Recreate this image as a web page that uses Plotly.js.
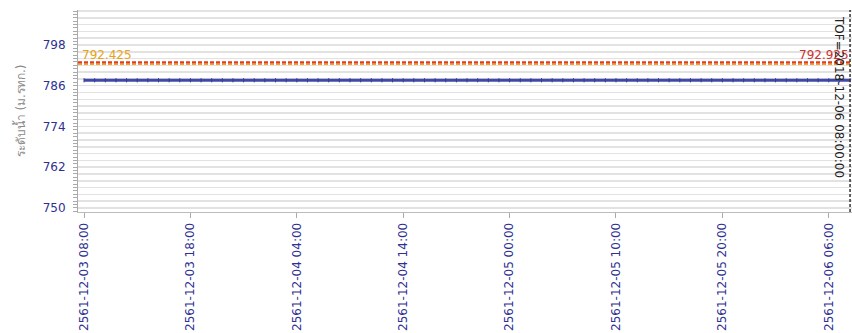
<!DOCTYPE html>
<html>
<head>
<meta charset="utf-8">
<script src="https://cdn.plot.ly/plotly-3.0.1.min.js"></script>
<style>html,body{margin:0;padding:0;background:#fff;}#chart{width:852px;height:333px;}</style>
</head>
<body>
<div id="chart"></div>
<script>
// Water level series (hourly), 2018-12-03 08:00 .. 2018-12-06 08:00
const levelTimes = [
"2018-12-03 08:00","2018-12-03 09:00","2018-12-03 10:00","2018-12-03 11:00","2018-12-03 12:00","2018-12-03 13:00",
"2018-12-03 14:00","2018-12-03 15:00","2018-12-03 16:00","2018-12-03 17:00","2018-12-03 18:00","2018-12-03 19:00",
"2018-12-03 20:00","2018-12-03 21:00","2018-12-03 22:00","2018-12-03 23:00","2018-12-04 00:00","2018-12-04 01:00",
"2018-12-04 02:00","2018-12-04 03:00","2018-12-04 04:00","2018-12-04 05:00","2018-12-04 06:00","2018-12-04 07:00",
"2018-12-04 08:00","2018-12-04 09:00","2018-12-04 10:00","2018-12-04 11:00","2018-12-04 12:00","2018-12-04 13:00",
"2018-12-04 14:00","2018-12-04 15:00","2018-12-04 16:00","2018-12-04 17:00","2018-12-04 18:00","2018-12-04 19:00",
"2018-12-04 20:00","2018-12-04 21:00","2018-12-04 22:00","2018-12-04 23:00","2018-12-05 00:00","2018-12-05 01:00",
"2018-12-05 02:00","2018-12-05 03:00","2018-12-05 04:00","2018-12-05 05:00","2018-12-05 06:00","2018-12-05 07:00",
"2018-12-05 08:00","2018-12-05 09:00","2018-12-05 10:00","2018-12-05 11:00","2018-12-05 12:00","2018-12-05 13:00",
"2018-12-05 14:00","2018-12-05 15:00","2018-12-05 16:00","2018-12-05 17:00","2018-12-05 18:00","2018-12-05 19:00",
"2018-12-05 20:00","2018-12-05 21:00","2018-12-05 22:00","2018-12-05 23:00","2018-12-06 00:00","2018-12-06 01:00",
"2018-12-06 02:00","2018-12-06 03:00","2018-12-06 04:00","2018-12-06 05:00","2018-12-06 06:00","2018-12-06 07:00",
"2018-12-06 08:00"
];
const levelValues = [
787.6,787.6,787.6,787.6,787.6,787.6,787.6,787.6,787.6,787.6,787.6,787.6,
787.6,787.6,787.6,787.6,787.6,787.6,787.6,787.6,787.6,787.6,787.6,787.6,
787.6,787.6,787.6,787.6,787.6,787.6,787.6,787.6,787.6,787.6,787.6,787.6,
787.6,787.6,787.6,787.6,787.6,787.6,787.6,787.6,787.6,787.6,787.6,787.6,
787.6,787.6,787.6,787.6,787.6,787.6,787.6,787.6,787.6,787.6,787.6,787.6,
787.6,787.6,787.6,787.6,787.6,787.6,787.6,787.6,787.6,787.6,787.6,787.6,
787.6
];
// Reference levels
const warnLevel = 792.425;
const critLevel = 792.925;
const refStart = "2018-12-03 07:26";
const refEnd = "2018-12-06 08:11";
const tofTime = "2018-12-06 08:00";
const tofLabel = "TOF=2018-12-06 08:00:00";
// Axis ticks
const xTickVals = ["2018-12-03 08:00","2018-12-03 18:00","2018-12-04 04:00","2018-12-04 14:00",
                   "2018-12-05 00:00","2018-12-05 10:00","2018-12-05 20:00","2018-12-06 06:00"];
const xTickText = ["2561-12-03 08:00","2561-12-03 18:00","2561-12-04 04:00","2561-12-04 14:00",
                   "2561-12-05 00:00","2561-12-05 10:00","2561-12-05 20:00","2561-12-06 06:00"];
const yTickVals = [750, 762, 774, 786, 798];
const yTitle = "ระดับน้ำ (ม.รทก.)";

const tickColor = "#2e3192";
const FONT = "DejaVu Sans";

const traces = [
  {x: [refStart, refEnd], y: [warnLevel, warnLevel], mode: "lines",
   line: {color: "#f0a030", width: 2, dash: "4px,2px"}, hoverinfo: "skip"},
  {x: [refStart, refEnd], y: [critLevel, critLevel], mode: "lines",
   line: {color: "#e53a2a", width: 2, dash: "4px,2px"}, hoverinfo: "skip"},
  {x: levelTimes, y: levelValues, mode: "lines+markers",
   line: {color: "#4048a8", width: 3},
   marker: {symbol: "line-ns-open", size: 3, color: "#343c98", line: {width: 1, color: "#343c98"}}},
  {x: levelTimes, y: levelValues, yaxis: "y2", mode: "none", hoverinfo: "skip"}
];

const layout = {
  width: 852, height: 333,
  margin: {l: 78, r: 0, t: 10, b: 121},
  paper_bgcolor: "#ffffff", plot_bgcolor: "#ffffff",
  showlegend: false,
  font: {family: FONT, size: 12, color: tickColor},
  xaxis: {
    type: "date", range: [refStart, refEnd],
    tickvals: xTickVals, ticktext: xTickText, tickangle: -90,
    ticks: "outside", ticklen: 5, tickcolor: "#aaaaaa",
    showgrid: false, zeroline: false,
    showline: true, linecolor: "#bbbbbb", linewidth: 1,
    tickfont: {family: FONT, size: 12, color: tickColor},
    automargin: false
  },
  yaxis: {
    range: [748.8, 808.3],
    tickvals: yTickVals,
    ticks: "outside", ticklen: 9, tickcolor: "rgba(0,0,0,0)",
    showgrid: true, gridcolor: "#e2e2e2", gridwidth: 1.5,
    minor: {dtick: 2, tick0: 750, showgrid: true, gridcolor: "#e2e2e2", gridwidth: 1.5, ticks: ""},
    zeroline: false,
    showline: true, linecolor: "#aaaaaa", linewidth: 1,
    tickfont: {family: FONT, size: 12, color: tickColor},
    title: {text: yTitle, font: {family: FONT, size: 12, color: "#8a8a8a"}, standoff: 14},
    automargin: false
  },
  yaxis2: {
    overlaying: "y", side: "left", range: [748.8, 808.3],
    dtick: 1, tick0: 750, ticks: "outside", ticklen: 4, tickcolor: "#aaaaaa",
    showticklabels: false, showgrid: false, zeroline: false, showline: false
  },
  shapes: [
    {type: "line", xref: "x", yref: "paper", x0: tofTime, x1: tofTime, y0: 0, y1: 1,
     line: {color: "#333333", width: 1.5, dash: "3px,2px"}}
  ],
  annotations: [
    {x: refStart, y: warnLevel, xref: "x", yref: "y", text: String(warnLevel),
     showarrow: false, xanchor: "left", yanchor: "bottom", xshift: 2, yshift: 0,
     font: {family: FONT, size: 12, color: "#e8a317"}},
    {x: tofTime, y: critLevel, xref: "x", yref: "y", text: String(critLevel),
     showarrow: false, xanchor: "right", yanchor: "bottom", xshift: 1, yshift: -2,
     font: {family: FONT, size: 12, color: "#d03030"}},
    {x: tofTime, y: 1, xref: "x", yref: "paper", text: tofLabel, textangle: 90,
     showarrow: false, xanchor: "right", yanchor: "top", xshift: -2, yshift: -4,
     font: {family: FONT, size: 12, color: "#222222"}}
  ]
};

Plotly.newPlot("chart", traces, layout, {displayModeBar: false, staticPlot: true});
</script>
</body>
</html>
